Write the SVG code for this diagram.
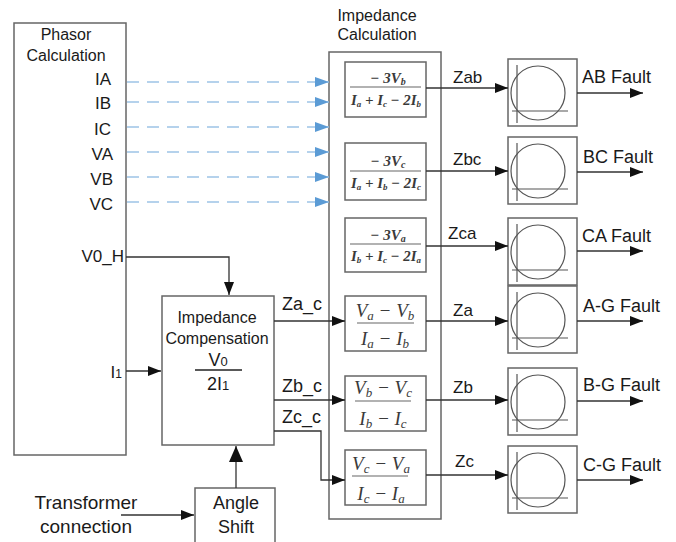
<svg xmlns="http://www.w3.org/2000/svg" width="676" height="542" viewBox="0 0 676 542">
<style>
.box{fill:#fff;stroke:#666;stroke-width:1.5}
.t{font-family:"Liberation Sans",Arial,sans-serif;fill:#1a1a1a}
.c{text-anchor:middle}
.e{text-anchor:end}
.f{font-family:"Liberation Serif","Times New Roman",serif;font-style:italic;fill:#3a3a3a;text-anchor:middle}
.ln{fill:none;stroke:#333;stroke-width:1.3}
.dash{fill:none;stroke:#9DC3E6;stroke-width:1.5;stroke-dasharray:12 8}
.fl{stroke:#999;stroke-width:1.3}
.rl{fill:none;stroke:#555;stroke-width:1.2}
</style>
<defs>
<marker id="a" markerUnits="userSpaceOnUse" markerWidth="13" markerHeight="10" refX="13" refY="5" viewBox="0 0 13 10" orient="auto"><path d="M0,0L13,5L0,10z" fill="#111"/></marker>
<marker id="b" markerUnits="userSpaceOnUse" markerWidth="14" markerHeight="10" refX="14" refY="5" viewBox="0 0 14 10" orient="auto"><path d="M0,0L14,5L0,10z" fill="#5B9BD5"/></marker>
<marker id="big" markerUnits="userSpaceOnUse" markerWidth="16" markerHeight="14" refX="16" refY="7" viewBox="0 0 16 14" orient="auto"><path d="M0,0L16,7L0,14z" fill="#111"/></marker>
<g id="relay"><rect class="box" x="0" y="0" width="69" height="67"/><circle class="rl" cx="30" cy="34" r="27"/><line class="rl" x1="9" y1="6" x2="9" y2="64"/><line class="rl" x1="4" y1="52" x2="60" y2="52"/></g>
</defs>

<g id="phasor">
<rect class="box" x="14" y="23" width="112" height="432"/>
<text class="t c" x="66" y="40" font-size="16">Phasor</text>
<text class="t c" x="66" y="61" font-size="16">Calculation</text>
<text class="t e" x="111" y="85" font-size="17">IA</text>
<text class="t e" x="111" y="109" font-size="17">IB</text>
<text class="t e" x="111" y="135" font-size="17">IC</text>
<text class="t e" x="113" y="160" font-size="17">VA</text>
<text class="t e" x="113" y="185" font-size="17">VB</text>
<text class="t e" x="113" y="210" font-size="17">VC</text>
<text class="t e" x="124" y="262" font-size="17">V0_H</text>
<text class="t e" x="122" y="378" font-size="17">I<tspan font-size="12">1</tspan></text>
</g>

<g id="impcalc">
<text class="t c" x="377" y="21" font-size="16">Impedance</text>
<text class="t c" x="377" y="40" font-size="16">Calculation</text>
<rect class="box" x="329" y="52" width="112" height="467"/>
</g>

<g id="f1">
<rect class="box" x="345" y="62" width="81" height="55"/>
<text class="f" x="388" y="83" font-size="15" font-weight="bold">− 3V<tspan font-size="10" dy="2">b</tspan></text>
<line class="fl" x1="350" y1="87" x2="421" y2="87"/>
<text class="f" x="386" y="105" font-size="15" font-weight="bold" textLength="70" lengthAdjust="spacingAndGlyphs">I<tspan font-size="9" dy="2">a</tspan><tspan dy="-2"> + I</tspan><tspan font-size="9" dy="2">c</tspan><tspan dy="-2"> − 2I</tspan><tspan font-size="9" dy="2">b</tspan></text>
</g>
<g id="f2">
<rect class="box" x="345" y="143" width="81" height="57"/>
<text class="f" x="388" y="166" font-size="15" font-weight="bold">− 3V<tspan font-size="10" dy="2">c</tspan></text>
<line class="fl" x1="350" y1="171" x2="421" y2="171"/>
<text class="f" x="386" y="188" font-size="15" font-weight="bold" textLength="70" lengthAdjust="spacingAndGlyphs">I<tspan font-size="9" dy="2">a</tspan><tspan dy="-2"> + I</tspan><tspan font-size="9" dy="2">b</tspan><tspan dy="-2"> − 2I</tspan><tspan font-size="9" dy="2">c</tspan></text>
</g>
<g id="f3">
<rect class="box" x="345" y="218" width="81" height="54"/>
<text class="f" x="388" y="240" font-size="15" font-weight="bold">− 3V<tspan font-size="10" dy="2">a</tspan></text>
<line class="fl" x1="350" y1="244" x2="421" y2="244"/>
<text class="f" x="386" y="261" font-size="15" font-weight="bold" textLength="70" lengthAdjust="spacingAndGlyphs">I<tspan font-size="9" dy="2">b</tspan><tspan dy="-2"> + I</tspan><tspan font-size="9" dy="2">c</tspan><tspan dy="-2"> − 2I</tspan><tspan font-size="9" dy="2">a</tspan></text>
</g>
<g id="f4">
<rect class="box" x="345" y="296" width="81" height="55"/>
<text class="f" x="385" y="317" font-size="19">V<tspan font-size="13" dy="3">a</tspan><tspan dy="-3"> − V</tspan><tspan font-size="13" dy="3">b</tspan></text>
<line class="fl" x1="357" y1="323" x2="414" y2="323"/>
<text class="f" x="385" y="345" font-size="19">I<tspan font-size="13" dy="3">a</tspan><tspan dy="-3"> − I</tspan><tspan font-size="13" dy="3">b</tspan></text>
</g>
<g id="f5">
<rect class="box" x="345" y="376" width="81" height="55"/>
<text class="f" x="383" y="394" font-size="19">V<tspan font-size="13" dy="3">b</tspan><tspan dy="-3"> − V</tspan><tspan font-size="13" dy="3">c</tspan></text>
<line class="fl" x1="355" y1="401" x2="411" y2="401"/>
<text class="f" x="383" y="425" font-size="19">I<tspan font-size="13" dy="3">b</tspan><tspan dy="-3"> − I</tspan><tspan font-size="13" dy="3">c</tspan></text>
</g>
<g id="f6">
<rect class="box" x="345" y="450" width="81" height="55"/>
<text class="f" x="381" y="470" font-size="19">V<tspan font-size="13" dy="3">c</tspan><tspan dy="-3"> − V</tspan><tspan font-size="13" dy="3">a</tspan></text>
<line class="fl" x1="352" y1="476" x2="408" y2="476"/>
<text class="f" x="381" y="500" font-size="19">I<tspan font-size="13" dy="3">c</tspan><tspan dy="-3"> − I</tspan><tspan font-size="13" dy="3">a</tspan></text>
</g>

<g id="impcomp">
<rect class="box" x="162" y="296" width="112" height="149"/>
<text class="t c" x="217" y="323" font-size="16">Impedance</text>
<text class="t c" x="217" y="344" font-size="16">Compensation</text>
<text class="t c" x="218" y="366" font-size="18">V<tspan font-size="13">0</tspan></text>
<line x1="195" y1="370" x2="242" y2="370" stroke="#222" stroke-width="1.3"/>
<text class="t c" x="218" y="390" font-size="18">2I<tspan font-size="13">1</tspan></text>
</g>

<g id="angle">
<rect class="box" x="195" y="488" width="80" height="60"/>
<text class="t c" x="236" y="509" font-size="18">Angle</text>
<text class="t c" x="236" y="533" font-size="18">Shift</text>
</g>
<g id="transformer">
<text class="t c" x="86" y="509" font-size="19">Transformer</text>
<text class="t c" x="86" y="533" font-size="19">connection</text>
</g>

<g id="r1"><use href="#relay" x="508" y="59"/></g>
<g id="r2"><use href="#relay" x="508" y="137"/></g>
<g id="r3"><use href="#relay" x="508" y="218"/></g>
<g id="r4"><use href="#relay" x="508" y="286"/></g>
<g id="r5"><use href="#relay" x="508" y="368"/></g>
<g id="r6"><use href="#relay" x="508" y="446"/></g>

<g id="connectors">
<line class="dash" x1="127" y1="82" x2="329" y2="82" marker-end="url(#b)"/>
<line class="dash" x1="127" y1="102" x2="329" y2="102" marker-end="url(#b)"/>
<line class="dash" x1="127" y1="127" x2="329" y2="127" marker-end="url(#b)"/>
<line class="dash" x1="127" y1="152" x2="329" y2="152" marker-end="url(#b)"/>
<line class="dash" x1="127" y1="177" x2="329" y2="177" marker-end="url(#b)"/>
<line class="dash" x1="127" y1="202" x2="329" y2="202" marker-end="url(#b)"/>
<path class="ln" d="M126,257H229V295" marker-end="url(#a)"/>
<path class="ln" d="M126,371H161" marker-end="url(#a)"/>
<path class="ln" d="M274,321H345" marker-end="url(#a)"/>
<path class="ln" d="M274,400H345" marker-end="url(#a)"/>
<path class="ln" d="M274,431H321V480H345" marker-end="url(#a)"/>
<path class="ln" d="M236,488V446" stroke-width="2" marker-end="url(#big)"/>
<path class="ln" d="M121,515H194" stroke-width="2" marker-end="url(#a)"/>
<path class="ln" d="M426,88H508" marker-end="url(#a)"/>
<path class="ln" d="M426,171H508" marker-end="url(#a)"/>
<path class="ln" d="M426,246H508" marker-end="url(#a)"/>
<path class="ln" d="M426,321H508" marker-end="url(#a)"/>
<path class="ln" d="M426,400H508" marker-end="url(#a)"/>
<path class="ln" d="M426,475H508" marker-end="url(#a)"/>
<path class="ln" d="M577,93H643" marker-end="url(#a)"/>
<path class="ln" d="M577,172H643" marker-end="url(#a)"/>
<path class="ln" d="M577,251H643" marker-end="url(#a)"/>
<path class="ln" d="M577,321H643" marker-end="url(#a)"/>
<path class="ln" d="M577,401H643" marker-end="url(#a)"/>
<path class="ln" d="M577,480H643" marker-end="url(#a)"/>
<text class="t" x="282" y="310" font-size="18">Za_c</text>
<text class="t" x="282" y="392" font-size="18">Zb_c</text>
<text class="t" x="282" y="423" font-size="18">Zc_c</text>
<text class="t" x="453" y="83" font-size="17">Zab</text>
<text class="t" x="453" y="165" font-size="17">Zbc</text>
<text class="t" x="448" y="239" font-size="17">Zca</text>
<text class="t" x="453" y="316" font-size="17">Za</text>
<text class="t" x="453" y="393" font-size="17">Zb</text>
<text class="t" x="455" y="467" font-size="17">Zc</text>
<text class="t" x="582" y="83" font-size="18">AB Fault</text>
<text class="t" x="583" y="163" font-size="18">BC Fault</text>
<text class="t" x="582" y="242" font-size="18">CA Fault</text>
<text class="t" x="583" y="312" font-size="18">A-G Fault</text>
<text class="t" x="583" y="391" font-size="18">B-G Fault</text>
<text class="t" x="583" y="471" font-size="18">C-G Fault</text>
</g>
</svg>
